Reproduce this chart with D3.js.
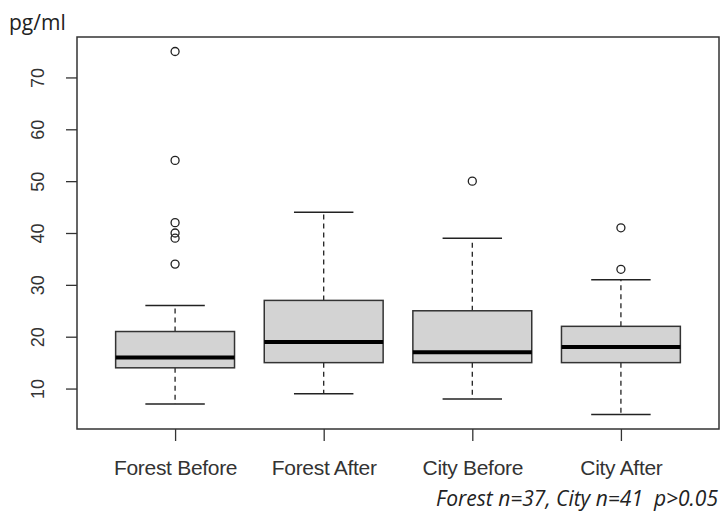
<!DOCTYPE html>
<html>
<head>
<meta charset="utf-8">
<script src="https://cdn.jsdelivr.net/npm/d3@7"></script>
<style>
  body { margin: 0; background: #fff; }
  svg { display: block; }
</style>
</head>
<body>
<svg id="chart"></svg>
<script>
const groups = ["Forest Before", "Forest After", "City Before", "City After"];
const lowWhisker = [7, 9, 8, 5];
const q1 = [14, 15, 15, 15];
const medians = [16, 19, 17, 18];
const q3 = [21, 27, 25, 22];
const highWhisker = [26, 44, 39, 31];
const outliers = [[34, 39, 40, 42, 54, 75], [], [50], [33, 41]];
const yTicks = [10, 20, 30, 40, 50, 60, 70];

const width = 722;
const height = 511;
const frame = { left: 77, right: 719, top: 37, bottom: 429 };

const svg = d3.select('#chart')
    .attr('width', width)
    .attr('height', height);

// R style: xlim 0.5..4.5 and ylim from data, both widened by 4%
const x = d3.scaleLinear()
    .domain([0.5 - 0.16, groups.length + 0.5 + 0.16])
    .range([frame.left, frame.right]);
const y = d3.scaleLinear()
    .domain([2.2, 77.8])
    .range([frame.bottom, frame.top]);

const unit = x(1) - x(0);
const boxW = 0.8 * unit;
const capW = 0.4 * unit;

const boxes = groups.map((g, i) => ({
    name: g, pos: i + 1,
    lo: lowWhisker[i], q1: q1[i], med: medians[i], q3: q3[i], hi: highWhisker[i],
    out: outliers[i]
}));

const node = svg.selectAll('g.box')
    .data(boxes)
    .enter().append('g')
    .attr('class', 'box');

// whiskers
node.append('line')
    .attr('x1', d => x(d.pos)).attr('x2', d => x(d.pos))
    .attr('y1', d => y(d.q3)).attr('y2', d => y(d.hi))
    .attr('stroke', '#222').attr('stroke-width', 1.3)
    .attr('stroke-dasharray', '5,4');
node.append('line')
    .attr('x1', d => x(d.pos)).attr('x2', d => x(d.pos))
    .attr('y1', d => y(d.q1)).attr('y2', d => y(d.lo))
    .attr('stroke', '#222').attr('stroke-width', 1.3)
    .attr('stroke-dasharray', '5,4');
node.append('line')
    .attr('x1', d => x(d.pos) - capW / 2).attr('x2', d => x(d.pos) + capW / 2)
    .attr('y1', d => y(d.hi)).attr('y2', d => y(d.hi))
    .attr('stroke', '#222').attr('stroke-width', 1.5);
node.append('line')
    .attr('x1', d => x(d.pos) - capW / 2).attr('x2', d => x(d.pos) + capW / 2)
    .attr('y1', d => y(d.lo)).attr('y2', d => y(d.lo))
    .attr('stroke', '#222').attr('stroke-width', 1.5);

// box
node.append('rect')
    .attr('x', d => x(d.pos) - boxW / 2)
    .attr('width', boxW)
    .attr('y', d => y(d.q3))
    .attr('height', d => y(d.q1) - y(d.q3))
    .attr('fill', '#d3d3d3')
    .attr('stroke', '#333')
    .attr('stroke-width', 1.5);

// median
node.append('line')
    .attr('x1', d => x(d.pos) - boxW / 2).attr('x2', d => x(d.pos) + boxW / 2)
    .attr('y1', d => y(d.med)).attr('y2', d => y(d.med))
    .attr('stroke', '#000').attr('stroke-width', 4);

// outliers
node.selectAll('circle')
    .data(d => d.out.map(v => ({ pos: d.pos, v: v })))
    .enter().append('circle')
    .attr('cx', d => x(d.pos))
    .attr('cy', d => y(d.v))
    .attr('r', 4)
    .attr('fill', 'none')
    .attr('stroke', '#222')
    .attr('stroke-width', 1.3);

// frame
svg.append('rect')
    .attr('x', frame.left).attr('y', frame.top)
    .attr('width', frame.right - frame.left)
    .attr('height', frame.bottom - frame.top)
    .attr('fill', 'none')
    .attr('stroke', '#333')
    .attr('stroke-width', 1.5);

// y axis, labels turned like R's las=0
const yAxis = svg.append('g')
    .attr('transform', `translate(${frame.left},0)`)
    .call(d3.axisLeft(y).tickValues(yTicks).tickSize(11));
yAxis.select('.domain').remove();
yAxis.selectAll('.tick line').attr('stroke', '#333').attr('stroke-width', 1.3);
yAxis.selectAll('.tick text')
    .attr('font-family', 'Liberation Sans, Arial, sans-serif')
    .attr('font-size', 18)
    .attr('fill', '#333')
    .attr('x', null).attr('y', 0)
    .attr('text-anchor', 'middle')
    .attr('transform', 'translate(-39,0) rotate(-90)')
    .attr('dy', '0.35em');

// x axis
const xAxis = svg.append('g')
    .attr('transform', `translate(0,${frame.bottom})`)
    .call(d3.axisBottom(x).tickValues(boxes.map(d => d.pos))
        .tickFormat(d => groups[d - 1]).tickSize(12).tickPadding(19));
xAxis.select('.domain').remove();
xAxis.selectAll('.tick line').attr('stroke', '#333').attr('stroke-width', 1.3);
xAxis.selectAll('.tick text')
    .attr('font-family', 'Liberation Sans, Arial, sans-serif')
    .attr('font-size', 21)
    .attr('letter-spacing', -0.3)
    .attr('fill', '#333');

// unit label
svg.append('text')
    .attr('x', 9).attr('y', 30)
    .attr('font-family', 'Open Sans, sans-serif')
    .attr('font-size', 21)
    .attr('fill', '#222')
    .text('pg/ml');

// note
svg.append('text')
    .attr('x', 718).attr('y', 506)
    .attr('text-anchor', 'end')
    .style('white-space', 'pre')
    .attr('font-family', 'Open Sans, sans-serif')
    .attr('font-style', 'italic')
    .attr('font-size', 21)
    .attr('fill', '#222')
    .text('Forest n=37, City n=41  p>0.05');
</script>
</body>
</html>
